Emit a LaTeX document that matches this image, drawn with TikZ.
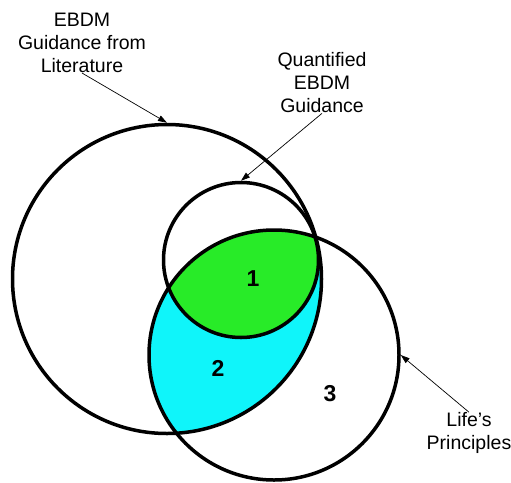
\documentclass[tikz,border=0pt]{standalone}
\usepackage{fontspec}
\setmainfont{Liberation Sans}
\usetikzlibrary{arrows.meta}

\definecolor{lensgreen}{RGB}{40,235,40}
\definecolor{lenscyan}{RGB}{15,245,250}

\tikzset{
  setcircle/.style={circle, draw, line width=3.5pt, inner sep=0pt},
  lbltext/.style={align=center, inner sep=0pt, font=\fontsize{19.5}{23}\selectfont},
  numtext/.style={font=\fontsize{23}{26}\selectfont\bfseries},
  pointer/.style={-{Triangle[length=9pt,width=6pt]}, line width=0.7pt}
}

\begin{document}
\begin{tikzpicture}[x=1pt, y=-1pt]
  \useasboundingbox (0,0) rectangle (511,482);
  % shaded overlaps with Life's Principles
  \begin{scope}
    \clip (274,355) circle (125pt);
    \fill[lenscyan] (167,279) circle (154.5pt);
    \fill[lensgreen] (241,260) circle (77.5pt);
  \end{scope}
  % the three sets
  \node[setcircle, minimum size=309pt] (lit) at (167,279) {};
  \node[setcircle, minimum size=155pt] (quant) at (241,260) {};
  \node[setcircle, minimum size=250pt] (life) at (274,355) {};
  % region numbers
  \node[numtext] (n1) at (253,279) {1};
  \node[numtext] (n2) at (218,368) {2};
  \node[numtext] (n3) at (330,394) {3};
  % captions and pointers
  \node[lbltext] (litlbl) at (82,43) {EBDM\\Guidance from\\Literature};
  \node[lbltext] (quantlbl) at (322,83) {Quantified\\EBDM\\Guidance};
  \node[lbltext] (lifelbl) at (469,433) {Life’s\\Principles};
  \draw[pointer] (litlbl.south) -- (lit.north);
  \draw[pointer] (quantlbl.south) -- (quant.north);
  \draw[pointer] (lifelbl.north) -- (life.east);
\end{tikzpicture}
\end{document}
